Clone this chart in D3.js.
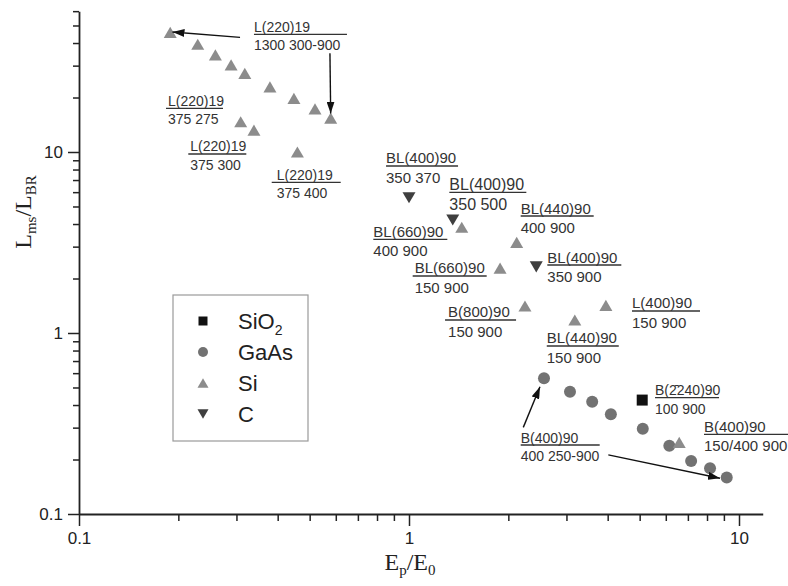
<!DOCTYPE html>
<html>
<head>
<meta charset="utf-8">
<script src="https://cdn.jsdelivr.net/npm/d3@7"></script>
<style>
  body { margin: 0; background: #fff; }
  svg { display: block; }
</style>
</head>
<body>
<svg id="chart" width="788" height="586"></svg>
<script>
// ---- measured series: Ep/E0 (x) against Lms/LBR (y) ----
const siX   = [0.189, 0.229, 0.259, 0.289, 0.318, 0.379, 0.448, 0.519, 0.579, 0.309, 0.339, 0.459,
               1.445, 2.12, 1.888, 2.246, 3.18, 3.95, 6.59];
const siY   = [45.8, 39.4, 34.4, 30.3, 27.2, 22.9, 19.8, 17.3, 15.4, 14.7, 13.2, 10.0,
               3.84, 3.17, 2.28, 1.41, 1.18, 1.42, 0.249];
const gaasX = [2.565, 3.075, 3.59, 4.09, 5.11, 6.15, 7.16, 8.17, 9.18];
const gaasY = [0.562, 0.474, 0.417, 0.356, 0.296, 0.238, 0.196, 0.179, 0.159];
const cX    = [1.0, 1.357, 2.43];
const cY    = [5.59, 4.21, 2.32];
const sio2X = [5.09];
const sio2Y = [0.426];

// axis ticks
const xMajor = [0.1, 1, 10];
const yMajor = [0.1, 1, 10];
const xMinor = [0.2, 0.3, 0.4, 0.5, 0.6, 0.7, 0.8, 0.9, 2, 3, 4, 5, 6, 7, 8, 9];
const yMinor = [0.2, 0.3, 0.4, 0.5, 0.6, 0.7, 0.8, 0.9, 2, 3, 4, 5, 6, 7, 8, 9, 20, 30, 40, 50, 60];
const tickText = ["0.1", "1", "10"];

// legend entries
const legendNames = ["SiO", "GaAs", "Si", "C"];

// annotation texts: crystal reflection over the two beam parameters
const noteTop    = ["L(220)19", "L(220)19", "L(220)19", "L(220)19", "BL(400)90", "BL(400)90",
                    "BL(440)90", "BL(660)90", "BL(660)90", "BL(400)90", "B(800)90", "L(400)90",
                    "BL(440)90", "B(2\u0304240)90", "B(400)90", "B(400)90"];
const noteBottom = ["1300 300-900", "375 275", "375 300", "375 400", "350 370", "350 500",
                    "400 900", "400 900", "150 900", "350 900", "150 900", "150 900",
                    "150 900", "100 900", "150/400 900", "400 250-900"];

// ---- layout ----
const svg = d3.select("#chart");
const X0 = 79, Y0 = 514, DX = 330, DY = 181;
const xMax = 11.8, yMax = 60;
const x = d3.scaleLog().domain([0.1, xMax]).range([X0, X0 + DX * Math.log10(xMax / 0.1)]);
const y = d3.scaleLog().domain([0.1, yMax]).range([Y0, Y0 - DY * Math.log10(yMax / 0.1)]);

const sans = "'Liberation Sans', Arial, sans-serif";
const serif = "'Liberation Serif', 'Times New Roman', serif";
const ink = "#222";

// annotation placement (data coords of the fraction bar's left end) and sizing
const noteLayout = [
  { at: [0.339, 44.7],  w: 93, fs: 14, dx: 0 },
  { at: [0.1835, 17.4], w: 57, fs: 14, dx: 2 },
  { at: [0.2144, 9.75], w: 58, fs: 14, dx: 2 },
  { at: [0.3837, 6.80], w: 69, fs: 14, dx: 5 },
  { at: [0.852, 8.37],  w: 72, fs: 15, dx: 0 },
  { at: [1.325, 5.99],  w: 77, fs: 16, dx: 0 },
  { at: [2.18, 4.43],   w: 73, fs: 15, dx: 0 },
  { at: [0.7796, 3.294],w: 74, fs: 15, dx: 0 },
  { at: [1.026, 2.065], w: 74, fs: 15, dx: 2 },
  { at: [2.625, 2.375], w: 74, fs: 15, dx: 0 },
  { at: [1.286, 1.18],  w: 71, fs: 15, dx: 3 },
  { at: [4.74, 1.323],  w: 68, fs: 15, dx: 0 },
  { at: [2.615, 0.8477],w: 72, fs: 15, dx: 0 },
  { at: [5.566, 0.4391],w: 64, fs: 14, dx: 0 },
  { at: [7.833, 0.2757],w: 86, fs: 15, dx: 0 },
  { at: [2.18, 0.2405], w: 79, fs: 14, dx: 0 }
];

// arrows from labels to the points they describe (data coords)
const arrowFrom = [[0.3076, 43.0], [0.576, 35.1], [2.22, 0.301], [4.018, 0.212]];
const arrowTo   = [[0.192, 46.0],  [0.579, 16.3], [2.494, 0.505], [8.76, 0.1575]];

// ---- axes ----
function drawAxis(g, axisFn, majors, minors, labels, isX) {
  const major = axisFn.tickValues(majors).tickSize(isX ? 12 : 11).tickSizeOuter(0)
    .tickPadding(isX ? 6 : 5).tickFormat((d, i) => labels[i]);
  g.call(major);
  const minor = g.append("g");
  minor.call(axisFn.tickValues(minors).tickSize(isX ? 7 : 6).tickFormat(""));
  minor.select(".domain").remove();
  g.selectAll("path.domain").attr("stroke", ink).attr("stroke-width", 1.8);
  g.selectAll(".tick line").attr("stroke", ink).attr("stroke-width", 1.5);
  g.selectAll(".tick text").attr("fill", ink).style("font-family", sans).style("font-size", "17px");
}

const gx = svg.append("g").attr("transform", `translate(0,${Y0})`);
drawAxis(gx, d3.axisBottom(x), xMajor, xMinor, tickText, true);
const gy = svg.append("g").attr("transform", `translate(${X0},0)`);
drawAxis(gy, d3.axisLeft(y), yMajor, yMinor, tickText, false);

// axis titles
const xt = svg.append("text").attr("x", 410).attr("y", 570).attr("text-anchor", "middle")
  .style("font-family", serif).style("font-size", "24px").attr("fill", ink);
xt.append("tspan").text("E");
xt.append("tspan").text("p").attr("dy", 5).style("font-size", "15px");
xt.append("tspan").text("/E").attr("dy", -5);
xt.append("tspan").text("0").attr("dy", 5).style("font-size", "15px");

const yt = svg.append("text").attr("transform", "translate(31,212) rotate(-90)")
  .attr("text-anchor", "middle").style("font-family", serif).style("font-size", "24px").attr("fill", ink);
yt.append("tspan").text("L");
yt.append("tspan").text("ms").attr("dy", 5).style("font-size", "15px");
yt.append("tspan").text("/L").attr("dy", -5);
yt.append("tspan").text("BR").attr("dy", 5).style("font-size", "15px");

// ---- marker shapes, centred on their bounding box ----
const tri = (s) => `M0,${-s * 0.43}L${s / 2},${s * 0.43}L${-s / 2},${s * 0.43}Z`;
const triDown = (s) => `M0,${s * 0.43}L${s / 2},${-s * 0.43}L${-s / 2},${-s * 0.43}Z`;
const square = (s) => `M${-s / 2},${-s / 2}h${s}v${s}h${-s}Z`;

const series = [
  { xs: sio2X, ys: sio2Y, kind: "square", fill: "#111" },
  { xs: gaasX, ys: gaasY, kind: "circle", fill: "#727272" },
  { xs: siX,   ys: siY,   kind: "tri",    fill: "#8c8c8c" },
  { xs: cX,    ys: cY,    kind: "down",   fill: "#3f3f3f" }
];

function shapePath(kind, s) {
  if (kind === "square") return square(s);
  if (kind === "tri") return tri(s);
  if (kind === "down") return triDown(s);
  return d3.symbol(d3.symbolCircle, Math.PI * (s / 2) * (s / 2))();
}
const plotSize = { square: 11, circle: 12, tri: 13, down: 13 };
const legendSize = { square: 9, circle: 10, tri: 11, down: 11 };

const plot = svg.append("g");
series.forEach(s => {
  plot.selectAll(null).data(s.xs.map((v, i) => [v, s.ys[i]])).enter().append("path")
    .attr("d", shapePath(s.kind, plotSize[s.kind]))
    .attr("transform", d => `translate(${x(d[0])},${y(d[1])})`)
    .attr("fill", s.fill);
});

// ---- annotations ----
const notes = svg.append("g").attr("fill", "#333").style("font-family", sans);
noteLayout.forEach((n, i) => {
  const px = x(n.at[0]), py = y(n.at[1]);
  notes.append("line").attr("x1", px).attr("x2", px + n.w).attr("y1", py).attr("y2", py)
    .attr("stroke", "#333").attr("stroke-width", 1.3);
  notes.append("text").attr("x", px + n.dx).attr("y", py - 2.5).style("font-size", n.fs + "px").text(noteTop[i]);
  notes.append("text").attr("x", px + n.dx).attr("y", py + n.fs + 2).style("font-size", n.fs + "px").text(noteBottom[i]);
});

// arrowhead definition
svg.append("defs").append("marker").attr("id", "head")
  .attr("viewBox", "0 0 12 8").attr("refX", 12).attr("refY", 4)
  .attr("markerWidth", 12).attr("markerHeight", 8).attr("markerUnits", "userSpaceOnUse")
  .attr("orient", "auto")
  .append("path").attr("d", "M0,0L12,4L0,8Z").attr("fill", "#111");

const arrows = svg.append("g");
arrowFrom.forEach((f, i) => {
  const t = arrowTo[i];
  arrows.append("line")
    .attr("x1", x(f[0])).attr("y1", y(f[1]))
    .attr("x2", x(t[0])).attr("y2", y(t[1]))
    .attr("stroke", "#111").attr("stroke-width", 1.4)
    .attr("marker-end", "url(#head)");
});

// ---- legend ----
const lg = svg.append("g");
lg.append("rect").attr("x", 173).attr("y", 295).attr("width", 135).attr("height", 146)
  .attr("fill", "none").attr("stroke", "#9a9a9a").attr("stroke-width", 1.2);
series.forEach((s, i) => {
  const cy = 321 + i * 31;
  lg.append("path").attr("d", shapePath(s.kind, legendSize[s.kind]))
    .attr("transform", `translate(203,${cy})`).attr("fill", s.fill);
  const t = lg.append("text").attr("x", 238).attr("y", cy + 8).attr("fill", ink)
    .style("font-family", sans).style("font-size", "22px").text(legendNames[i]);
  if (i === 0) t.append("tspan").text("2").attr("dy", 6).style("font-size", "14px");
});
</script>
</body>
</html>
